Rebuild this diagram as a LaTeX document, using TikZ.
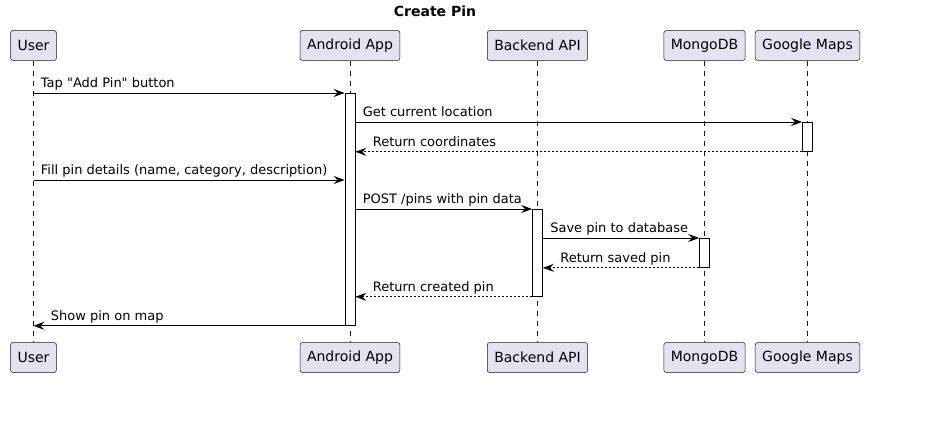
\documentclass[tikz,border=0pt]{standalone}
\usepackage{fontspec}
\setmainfont{DejaVu Sans}
\usetikzlibrary{arrows.meta}
\definecolor{partfill}{HTML}{E2E2F0}
\definecolor{partline}{HTML}{181818}
\begin{document}
\begin{tikzpicture}[x=1pt,y=-1pt,
    part/.style={rectangle,draw=partline,fill=partfill,line width=0.5pt,rounded corners=2.5pt,minimum height=30pt,inner xsep=7pt,font=\fontsize{14pt}{16pt}\selectfont},
    life/.style={draw=partline,line width=0.5pt,dash pattern=on 5pt off 5pt},
    act/.style={rectangle,draw=black,fill=white,line width=0.8pt,minimum width=10pt,inner sep=0pt,anchor=north},
    msg/.style={draw=black,line width=0.8pt,-{Stealth[length=11pt,width=8pt,inset=4pt]}},
    reply/.style={msg,dash pattern=on 2pt off 2pt},
    lblR/.style={pos=0,anchor=base west,inner sep=0pt,xshift=7pt,yshift=5pt,font=\fontsize{13pt}{15pt}\selectfont},
    lblL/.style={pos=1,anchor=base west,inner sep=0pt,xshift=17pt,yshift=5pt,font=\fontsize{13pt}{15pt}\selectfont}]
    \useasboundingbox (0,0) rectangle (942,430);
    \node[font=\fontsize{14pt}{16pt}\selectfont\bfseries] (title) at (435,11) {Create Pin};
    % participants
    \node[part] (user) at (33.5,45.5) {User};
    \node[part] (app) at (350,45.5) {Android App};
    \node[part] (api) at (537.5,45.5) {Backend API};
    \node[part] (db) at (704.5,45.5) {MongoDB};
    \node[part] (maps) at (807.5,45.5) {Google Maps};
    \node[part] (userB) at (33.5,357.5) {User};
    \node[part] (appB) at (350,357.5) {Android App};
    \node[part] (apiB) at (537.5,357.5) {Backend API};
    \node[part] (dbB) at (704.5,357.5) {MongoDB};
    \node[part] (mapsB) at (807.5,357.5) {Google Maps};
    \foreach \p in {user,app,api,db,maps}
        \draw[life] (\p.south) -- (\p B.north);
    % activations
    \node[act,minimum height=232pt] (appAct) at (app |- 0,93) {};
    \node[act,minimum height=29pt] (mapsAct) at (maps |- 0,122) {};
    \node[act,minimum height=87pt] (apiAct) at (api |- 0,209) {};
    \node[act,minimum height=29pt] (dbAct) at (db |- 0,238) {};
    % messages
    \draw[msg] (user |- appAct.north) -- (appAct.north west) node[lblR] {Tap \textquotedbl Add Pin\textquotedbl{} button};
    \draw[msg] (appAct.east |- mapsAct.north) -- (mapsAct.north west) node[lblR] {Get current location};
    \draw[reply] (mapsAct.south west) -- (appAct.east |- mapsAct.south) node[lblL] {Return coordinates};
    \draw[msg] (user |- 0,180) -- (appAct.west |- 0,180) node[lblR] {Fill pin details (name, category, description)};
    \draw[msg] (appAct.east |- apiAct.north) -- (apiAct.north west) node[lblR] {POST /pins with pin data};
    \draw[msg] (apiAct.east |- dbAct.north) -- (dbAct.north west) node[lblR] {Save pin to database};
    \draw[reply] (dbAct.south west) -- (apiAct.east |- dbAct.south) node[lblL] {Return saved pin};
    \draw[reply] (apiAct.south west) -- (appAct.east |- apiAct.south) node[lblL] {Return created pin};
    \draw[msg] (appAct.south west) -- (user |- appAct.south) node[lblL] {Show pin on map};
\end{tikzpicture}
\end{document}
